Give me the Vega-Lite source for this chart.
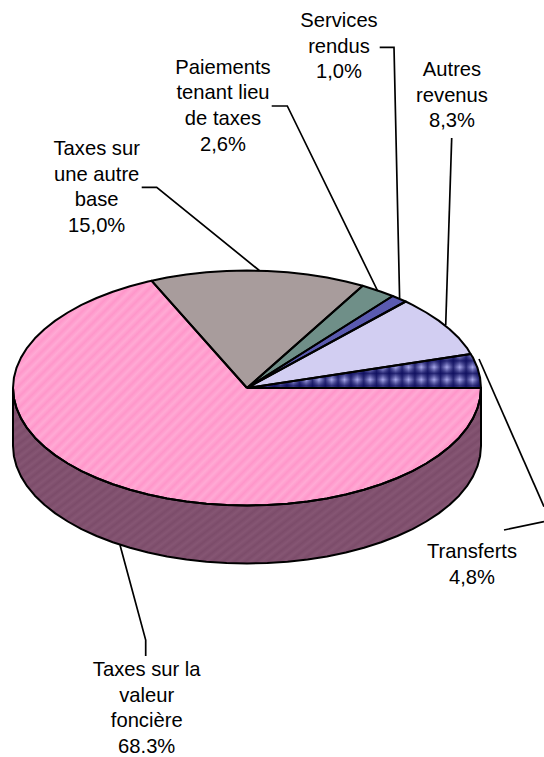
{"$schema":"https://vega.github.io/schema/vega-lite/v6.json","width":544,"height":757,"padding":0,"autosize":{"type":"none"},"background":"white","view":{"stroke":null},
"encoding":{"x":{"field":"x","type":"quantitative","scale":{"domain":[0,544],"nice":false,"zero":false},"axis":null},
"y":{"field":"y","type":"quantitative","scale":{"domain":[757,0],"nice":false,"zero":false},"axis":null}},
"datasets":{
"shapes":[
{"s":"Mur","o":1,"x":13,"y":388},{"s":"Mur","o":2,"x":13.9,"y":398.2},{"s":"Mur","o":3,"x":16.6,"y":408.4},{"s":"Mur","o":4,"x":21,"y":418.4},{"s":"Mur","o":5,"x":27.1,"y":428.2},{"s":"Mur","o":6,"x":34.9,"y":437.7},{"s":"Mur","o":7,"x":44.4,"y":446.7},{"s":"Mur","o":8,"x":55.3,"y":455.4},{"s":"Mur","o":9,"x":67.8,"y":463.5},{"s":"Mur","o":10,"x":81.5,"y":471.1},{"s":"Mur","o":11,"x":96.6,"y":478},{"s":"Mur","o":12,"x":112.8,"y":484.3},{"s":"Mur","o":13,"x":130,"y":489.8},{"s":"Mur","o":14,"x":148.1,"y":494.5},{"s":"Mur","o":15,"x":167,"y":498.4},{"s":"Mur","o":16,"x":186.4,"y":501.5},{"s":"Mur","o":17,"x":206.4,"y":503.7},{"s":"Mur","o":18,"x":226.6,"y":505.1},{"s":"Mur","o":19,"x":247,"y":505.5},{"s":"Mur","o":20,"x":267.4,"y":505.1},{"s":"Mur","o":21,"x":287.6,"y":503.7},{"s":"Mur","o":22,"x":307.6,"y":501.5},{"s":"Mur","o":23,"x":327,"y":498.4},{"s":"Mur","o":24,"x":345.9,"y":494.5},{"s":"Mur","o":25,"x":364,"y":489.8},{"s":"Mur","o":26,"x":381.2,"y":484.3},{"s":"Mur","o":27,"x":397.4,"y":478},{"s":"Mur","o":28,"x":412.5,"y":471.1},{"s":"Mur","o":29,"x":426.2,"y":463.5},{"s":"Mur","o":30,"x":438.7,"y":455.4},{"s":"Mur","o":31,"x":449.6,"y":446.7},{"s":"Mur","o":32,"x":459.1,"y":437.7},{"s":"Mur","o":33,"x":466.9,"y":428.2},{"s":"Mur","o":34,"x":473,"y":418.4},{"s":"Mur","o":35,"x":477.4,"y":408.4},{"s":"Mur","o":36,"x":480.1,"y":398.2},{"s":"Mur","o":37,"x":481,"y":388},
{"s":"Mur","o":38,"x":481,"y":446},{"s":"Mur","o":39,"x":480.1,"y":456.2},{"s":"Mur","o":40,"x":477.4,"y":466.4},{"s":"Mur","o":41,"x":473,"y":476.4},{"s":"Mur","o":42,"x":466.9,"y":486.2},{"s":"Mur","o":43,"x":459.1,"y":495.7},{"s":"Mur","o":44,"x":449.6,"y":504.7},{"s":"Mur","o":45,"x":438.7,"y":513.4},{"s":"Mur","o":46,"x":426.2,"y":521.5},{"s":"Mur","o":47,"x":412.5,"y":529.1},{"s":"Mur","o":48,"x":397.4,"y":536},{"s":"Mur","o":49,"x":381.2,"y":542.3},{"s":"Mur","o":50,"x":364,"y":547.8},{"s":"Mur","o":51,"x":345.9,"y":552.5},{"s":"Mur","o":52,"x":327,"y":556.4},{"s":"Mur","o":53,"x":307.6,"y":559.5},{"s":"Mur","o":54,"x":287.6,"y":561.7},{"s":"Mur","o":55,"x":267.4,"y":563.1},{"s":"Mur","o":56,"x":247,"y":563.5},{"s":"Mur","o":57,"x":226.6,"y":563.1},{"s":"Mur","o":58,"x":206.4,"y":561.7},{"s":"Mur","o":59,"x":186.4,"y":559.5},{"s":"Mur","o":60,"x":167,"y":556.4},{"s":"Mur","o":61,"x":148.1,"y":552.5},{"s":"Mur","o":62,"x":130,"y":547.8},{"s":"Mur","o":63,"x":112.8,"y":542.3},{"s":"Mur","o":64,"x":96.6,"y":536},{"s":"Mur","o":65,"x":81.5,"y":529.1},{"s":"Mur","o":66,"x":67.8,"y":521.5},{"s":"Mur","o":67,"x":55.3,"y":513.4},{"s":"Mur","o":68,"x":44.4,"y":504.7},{"s":"Mur","o":69,"x":34.9,"y":495.7},{"s":"Mur","o":70,"x":27.1,"y":486.2},{"s":"Mur","o":71,"x":21,"y":476.4},{"s":"Mur","o":72,"x":16.6,"y":466.4},{"s":"Mur","o":73,"x":13.9,"y":456.2},{"s":"Mur","o":74,"x":13,"y":446},{"s":"Mur","o":75,"x":13,"y":388},
{"s":"Valeur","o":1,"x":247,"y":388},{"s":"Valeur","o":2,"x":151.7,"y":280.8},{"s":"Valeur","o":3,"x":148.1,"y":281.5},{"s":"Valeur","o":4,"x":130,"y":286.2},{"s":"Valeur","o":5,"x":112.8,"y":291.7},{"s":"Valeur","o":6,"x":96.6,"y":298},{"s":"Valeur","o":7,"x":81.5,"y":304.9},{"s":"Valeur","o":8,"x":67.8,"y":312.5},{"s":"Valeur","o":9,"x":55.3,"y":320.6},{"s":"Valeur","o":10,"x":44.4,"y":329.3},{"s":"Valeur","o":11,"x":34.9,"y":338.3},{"s":"Valeur","o":12,"x":27.1,"y":347.8},{"s":"Valeur","o":13,"x":21,"y":357.6},{"s":"Valeur","o":14,"x":16.6,"y":367.6},{"s":"Valeur","o":15,"x":13.9,"y":377.8},{"s":"Valeur","o":16,"x":13,"y":388},{"s":"Valeur","o":17,"x":13.9,"y":398.2},{"s":"Valeur","o":18,"x":16.6,"y":408.4},{"s":"Valeur","o":19,"x":21,"y":418.4},{"s":"Valeur","o":20,"x":27.1,"y":428.2},{"s":"Valeur","o":21,"x":34.9,"y":437.7},{"s":"Valeur","o":22,"x":44.4,"y":446.7},{"s":"Valeur","o":23,"x":55.3,"y":455.4},{"s":"Valeur","o":24,"x":67.8,"y":463.5},{"s":"Valeur","o":25,"x":81.5,"y":471.1},{"s":"Valeur","o":26,"x":96.6,"y":478},{"s":"Valeur","o":27,"x":112.8,"y":484.3},{"s":"Valeur","o":28,"x":130,"y":489.8},{"s":"Valeur","o":29,"x":148.1,"y":494.5},{"s":"Valeur","o":30,"x":167,"y":498.4},{"s":"Valeur","o":31,"x":186.4,"y":501.5},{"s":"Valeur","o":32,"x":206.4,"y":503.7},{"s":"Valeur","o":33,"x":226.6,"y":505.1},{"s":"Valeur","o":34,"x":247,"y":505.5},{"s":"Valeur","o":35,"x":267.4,"y":505.1},{"s":"Valeur","o":36,"x":287.6,"y":503.7},{"s":"Valeur","o":37,"x":307.6,"y":501.5},{"s":"Valeur","o":38,"x":327,"y":498.4},{"s":"Valeur","o":39,"x":345.9,"y":494.5},{"s":"Valeur","o":40,"x":364,"y":489.8},{"s":"Valeur","o":41,"x":381.2,"y":484.3},{"s":"Valeur","o":42,"x":397.4,"y":478},{"s":"Valeur","o":43,"x":412.5,"y":471.1},{"s":"Valeur","o":44,"x":426.2,"y":463.5},{"s":"Valeur","o":45,"x":438.7,"y":455.4},{"s":"Valeur","o":46,"x":449.6,"y":446.7},{"s":"Valeur","o":47,"x":459.1,"y":437.7},{"s":"Valeur","o":48,"x":466.9,"y":428.2},{"s":"Valeur","o":49,"x":473,"y":418.4},{"s":"Valeur","o":50,"x":477.4,"y":408.4},{"s":"Valeur","o":51,"x":480.1,"y":398.2},{"s":"Valeur","o":52,"x":481,"y":388},{"s":"Valeur","o":53,"x":247,"y":388},
{"s":"Autre base","o":1,"x":247,"y":388},{"s":"Autre base","o":2,"x":362.7,"y":285.8},{"s":"Autre base","o":3,"x":345.9,"y":281.5},{"s":"Autre base","o":4,"x":327,"y":277.6},{"s":"Autre base","o":5,"x":307.6,"y":274.5},{"s":"Autre base","o":6,"x":287.6,"y":272.3},{"s":"Autre base","o":7,"x":267.4,"y":270.9},{"s":"Autre base","o":8,"x":247,"y":270.5},{"s":"Autre base","o":9,"x":226.6,"y":270.9},{"s":"Autre base","o":10,"x":206.4,"y":272.3},{"s":"Autre base","o":11,"x":186.4,"y":274.5},{"s":"Autre base","o":12,"x":167,"y":277.6},{"s":"Autre base","o":13,"x":151.7,"y":280.8},{"s":"Autre base","o":14,"x":247,"y":388},
{"s":"Paiements","o":1,"x":247,"y":388},{"s":"Paiements","o":2,"x":392.7,"y":296},{"s":"Paiements","o":3,"x":381.2,"y":291.7},{"s":"Paiements","o":4,"x":362.7,"y":285.8},{"s":"Paiements","o":5,"x":247,"y":388},
{"s":"Services","o":1,"x":247,"y":388},{"s":"Services","o":2,"x":405.7,"y":301.5},{"s":"Services","o":3,"x":397.4,"y":298},{"s":"Services","o":4,"x":392.7,"y":296},{"s":"Services","o":5,"x":247,"y":388},
{"s":"Autres","o":1,"x":247,"y":388},{"s":"Autres","o":2,"x":470.6,"y":354},{"s":"Autres","o":3,"x":466.9,"y":347.8},{"s":"Autres","o":4,"x":459.1,"y":338.3},{"s":"Autres","o":5,"x":449.6,"y":329.3},{"s":"Autres","o":6,"x":438.7,"y":320.6},{"s":"Autres","o":7,"x":426.2,"y":312.5},{"s":"Autres","o":8,"x":412.5,"y":304.9},{"s":"Autres","o":9,"x":405.7,"y":301.5},{"s":"Autres","o":10,"x":247,"y":388},
{"s":"Transferts","o":1,"x":247,"y":388},{"s":"Transferts","o":2,"x":481,"y":388},{"s":"Transferts","o":3,"x":480.1,"y":377.8},{"s":"Transferts","o":4,"x":477.4,"y":367.6},{"s":"Transferts","o":5,"x":473,"y":357.6},{"s":"Transferts","o":6,"x":470.6,"y":354},{"s":"Transferts","o":7,"x":247,"y":388}
],
"leaders":[
{"l":"a","o":1,"x":379.7,"y":47.3},{"l":"a","o":2,"x":394,"y":47.3},{"l":"a","o":3,"x":399.6,"y":298},
{"l":"b","o":1,"x":451.7,"y":138},{"l":"b","o":2,"x":445.7,"y":325},
{"l":"c","o":1,"x":271.7,"y":106},{"l":"c","o":2,"x":287.3,"y":106},{"l":"c","o":3,"x":377.7,"y":291},
{"l":"d","o":1,"x":141.7,"y":187.3},{"l":"d","o":2,"x":156.7,"y":187.3},{"l":"d","o":3,"x":259.3,"y":270.5},
{"l":"e","o":1,"x":120,"y":545},{"l":"e","o":2,"x":145.7,"y":640},{"l":"e","o":3,"x":145.7,"y":656},
{"l":"f","o":1,"x":479,"y":359},{"l":"f","o":2,"x":544,"y":506.7},
{"l":"g","o":1,"x":544,"y":521.7},{"l":"g","o":2,"x":504,"y":530}
],
"labels":[
{"t":"Services\nrendus\n1,0%","x":339,"y":21},
{"t":"Autres\nrevenus\n8,3%","x":452,"y":70},
{"t":"Paiements\ntenant lieu\nde taxes\n2,6%","x":223,"y":67.7},
{"t":"Taxes sur\nune autre\nbase\n15,0%","x":96.7,"y":149},
{"t":"Taxes sur la\nvaleur\nfoncière\n68.3%","x":146.7,"y":670},
{"t":"Transferts\n4,8%","x":472,"y":552}
]},
"layer":[
{"data":{"name":"shapes"},"mark":{"type":"line","filled":true,"strokeWidth":0},
"encoding":{"order":{"field":"o","type":"quantitative"},"detail":{"field":"s"},
"fill":{"field":"s","type":"nominal","legend":null,"scale":{"domain":["Mur","Valeur","Autre base","Paiements","Services","Autres","Transferts"],"range":["#7c4c6a","#ff96ca","#a89c9c","#6f8f88","#5a5ab0","#d2cef2","#a9a9ec"]}}}},
{"data":{"name":"shapes"},"transform":[{"filter":"datum.s==='Mur'||datum.s==='Valeur'"}],
"mark":{"type":"line","filled":true,"strokeWidth":0,"fill":{"gradient":"linear","x1":0,"y1":0,"x2":1.2028,"y2":0.578,"stops":[
{"offset":0,"color":"#ffd0e800"},{"offset":0.008,"color":"#ffd0e858"},{"offset":0.016,"color":"#ffd0e800"},{"offset":0.024,"color":"#ffd0e858"},{"offset":0.032,"color":"#ffd0e800"},{"offset":0.04,"color":"#ffd0e858"},{"offset":0.048,"color":"#ffd0e800"},{"offset":0.056,"color":"#ffd0e858"},{"offset":0.064,"color":"#ffd0e800"},{"offset":0.072,"color":"#ffd0e858"},{"offset":0.08,"color":"#ffd0e800"},{"offset":0.088,"color":"#ffd0e858"},{"offset":0.096,"color":"#ffd0e800"},{"offset":0.104,"color":"#ffd0e858"},{"offset":0.112,"color":"#ffd0e800"},{"offset":0.12,"color":"#ffd0e858"},{"offset":0.128,"color":"#ffd0e800"},{"offset":0.136,"color":"#ffd0e858"},{"offset":0.144,"color":"#ffd0e800"},{"offset":0.152,"color":"#ffd0e858"},{"offset":0.16,"color":"#ffd0e800"},{"offset":0.168,"color":"#ffd0e858"},{"offset":0.176,"color":"#ffd0e800"},{"offset":0.184,"color":"#ffd0e858"},{"offset":0.192,"color":"#ffd0e800"},{"offset":0.2,"color":"#ffd0e858"},{"offset":0.208,"color":"#ffd0e800"},{"offset":0.216,"color":"#ffd0e858"},{"offset":0.224,"color":"#ffd0e800"},{"offset":0.232,"color":"#ffd0e858"},{"offset":0.24,"color":"#ffd0e800"},{"offset":0.248,"color":"#ffd0e858"},{"offset":0.256,"color":"#ffd0e800"},{"offset":0.264,"color":"#ffd0e858"},{"offset":0.272,"color":"#ffd0e800"},{"offset":0.28,"color":"#ffd0e858"},{"offset":0.288,"color":"#ffd0e800"},{"offset":0.296,"color":"#ffd0e858"},{"offset":0.304,"color":"#ffd0e800"},{"offset":0.312,"color":"#ffd0e858"},{"offset":0.32,"color":"#ffd0e800"},{"offset":0.328,"color":"#ffd0e858"},{"offset":0.336,"color":"#ffd0e800"},{"offset":0.344,"color":"#ffd0e858"},{"offset":0.352,"color":"#ffd0e800"},{"offset":0.36,"color":"#ffd0e858"},{"offset":0.368,"color":"#ffd0e800"},{"offset":0.376,"color":"#ffd0e858"},{"offset":0.384,"color":"#ffd0e800"},{"offset":0.392,"color":"#ffd0e858"},{"offset":0.4,"color":"#ffd0e800"},{"offset":0.408,"color":"#ffd0e858"},{"offset":0.416,"color":"#ffd0e800"},{"offset":0.424,"color":"#ffd0e858"},{"offset":0.432,"color":"#ffd0e800"},{"offset":0.44,"color":"#ffd0e858"},{"offset":0.448,"color":"#ffd0e800"},{"offset":0.456,"color":"#ffd0e858"},{"offset":0.464,"color":"#ffd0e800"},{"offset":0.472,"color":"#ffd0e858"},{"offset":0.48,"color":"#ffd0e800"},{"offset":0.488,"color":"#ffd0e858"},{"offset":0.496,"color":"#ffd0e800"},{"offset":0.504,"color":"#ffd0e858"},{"offset":0.512,"color":"#ffd0e800"},{"offset":0.52,"color":"#ffd0e858"},{"offset":0.528,"color":"#ffd0e800"},{"offset":0.536,"color":"#ffd0e858"},{"offset":0.544,"color":"#ffd0e800"},{"offset":0.552,"color":"#ffd0e858"},{"offset":0.56,"color":"#ffd0e800"},{"offset":0.568,"color":"#ffd0e858"},{"offset":0.576,"color":"#ffd0e800"},{"offset":0.584,"color":"#ffd0e858"},{"offset":0.592,"color":"#ffd0e800"},{"offset":0.6,"color":"#ffd0e858"},{"offset":0.608,"color":"#ffd0e800"},{"offset":0.616,"color":"#ffd0e858"},{"offset":0.624,"color":"#ffd0e800"},{"offset":0.632,"color":"#ffd0e858"},{"offset":0.64,"color":"#ffd0e800"},{"offset":0.648,"color":"#ffd0e858"},{"offset":0.656,"color":"#ffd0e800"},{"offset":0.664,"color":"#ffd0e858"},{"offset":0.672,"color":"#ffd0e800"},{"offset":0.68,"color":"#ffd0e858"},{"offset":0.688,"color":"#ffd0e800"},{"offset":0.696,"color":"#ffd0e858"},{"offset":0.704,"color":"#ffd0e800"},{"offset":0.712,"color":"#ffd0e858"},{"offset":0.72,"color":"#ffd0e800"},{"offset":0.728,"color":"#ffd0e858"},{"offset":0.736,"color":"#ffd0e800"},{"offset":0.744,"color":"#ffd0e858"},{"offset":0.752,"color":"#ffd0e800"},{"offset":0.76,"color":"#ffd0e858"},{"offset":0.768,"color":"#ffd0e800"},{"offset":0.776,"color":"#ffd0e858"},{"offset":0.784,"color":"#ffd0e800"},{"offset":0.792,"color":"#ffd0e858"},{"offset":0.8,"color":"#ffd0e800"},{"offset":0.808,"color":"#ffd0e858"},{"offset":0.816,"color":"#ffd0e800"},{"offset":0.824,"color":"#ffd0e858"},{"offset":0.832,"color":"#ffd0e800"},{"offset":0.84,"color":"#ffd0e858"},{"offset":0.848,"color":"#ffd0e800"},{"offset":0.856,"color":"#ffd0e858"},{"offset":0.864,"color":"#ffd0e800"},{"offset":0.872,"color":"#ffd0e858"},{"offset":0.88,"color":"#ffd0e800"},{"offset":0.888,"color":"#ffd0e858"},{"offset":0.896,"color":"#ffd0e800"},{"offset":0.904,"color":"#ffd0e858"},{"offset":0.912,"color":"#ffd0e800"},{"offset":0.92,"color":"#ffd0e858"},{"offset":0.928,"color":"#ffd0e800"},{"offset":0.936,"color":"#ffd0e858"},{"offset":0.944,"color":"#ffd0e800"},{"offset":0.952,"color":"#ffd0e858"},{"offset":0.96,"color":"#ffd0e800"},{"offset":0.968,"color":"#ffd0e858"},{"offset":0.976,"color":"#ffd0e800"},{"offset":0.984,"color":"#ffd0e858"},{"offset":0.992,"color":"#ffd0e800"},{"offset":1,"color":"#ffd0e858"}]}},
"encoding":{"order":{"field":"o","type":"quantitative"},"detail":{"field":"s"},
"fillOpacity":{"field":"s","type":"nominal","legend":null,"scale":{"domain":["Mur","Valeur"],"range":[0.22,1]}}}},
{"data":{"name":"shapes"},"transform":[{"filter":"datum.s==='Transferts'"}],
"mark":{"type":"line","filled":true,"strokeWidth":0,"fill":{"gradient":"linear","x1":0,"y1":0,"x2":1,"y2":0,"stops":[
{"offset":0.0064,"color":"#0a0a5acc"},{"offset":0.0337,"color":"#0a0a5a00"},{"offset":0.0611,"color":"#0a0a5acc"},{"offset":0.0885,"color":"#0a0a5a00"},{"offset":0.1158,"color":"#0a0a5acc"},{"offset":0.1432,"color":"#0a0a5a00"},{"offset":0.1705,"color":"#0a0a5acc"},{"offset":0.1979,"color":"#0a0a5a00"},{"offset":0.2252,"color":"#0a0a5acc"},{"offset":0.2526,"color":"#0a0a5a00"},{"offset":0.2799,"color":"#0a0a5acc"},{"offset":0.3073,"color":"#0a0a5a00"},{"offset":0.3346,"color":"#0a0a5acc"},{"offset":0.362,"color":"#0a0a5a00"},{"offset":0.3893,"color":"#0a0a5acc"},{"offset":0.4167,"color":"#0a0a5a00"},{"offset":0.444,"color":"#0a0a5acc"},{"offset":0.4714,"color":"#0a0a5a00"},{"offset":0.4987,"color":"#0a0a5acc"},{"offset":0.5261,"color":"#0a0a5a00"},{"offset":0.5534,"color":"#0a0a5acc"},{"offset":0.5808,"color":"#0a0a5a00"},{"offset":0.6081,"color":"#0a0a5acc"},{"offset":0.6355,"color":"#0a0a5a00"},{"offset":0.6628,"color":"#0a0a5acc"},{"offset":0.6902,"color":"#0a0a5a00"},{"offset":0.7175,"color":"#0a0a5acc"},{"offset":0.7449,"color":"#0a0a5a00"},{"offset":0.7722,"color":"#0a0a5acc"},{"offset":0.7996,"color":"#0a0a5a00"},{"offset":0.8269,"color":"#0a0a5acc"},{"offset":0.8543,"color":"#0a0a5a00"},{"offset":0.8816,"color":"#0a0a5acc"},{"offset":0.909,"color":"#0a0a5a00"},{"offset":0.9363,"color":"#0a0a5acc"},{"offset":0.9637,"color":"#0a0a5a00"},{"offset":0.991,"color":"#0a0a5acc"}]}},
"encoding":{"order":{"field":"o","type":"quantitative"},"detail":{"field":"s"}}},
{"data":{"name":"shapes"},"transform":[{"filter":"datum.s==='Transferts'"}],
"mark":{"type":"line","filled":true,"strokeWidth":0,"fill":{"gradient":"linear","x1":0,"y1":0,"x2":0,"y2":1,"stops":[
{"offset":0.015,"color":"#0a0a5a00"},{"offset":0.2,"color":"#0a0a5acc"},{"offset":0.386,"color":"#0a0a5a00"},{"offset":0.571,"color":"#0a0a5acc"},{"offset":0.756,"color":"#0a0a5a00"},{"offset":0.941,"color":"#0a0a5acc"},{"offset":1,"color":"#0a0a5a88"}]}},
"encoding":{"order":{"field":"o","type":"quantitative"},"detail":{"field":"s"}}},
{"data":{"name":"shapes"},"mark":{"type":"line","color":"black","strokeWidth":2,"strokeJoin":"round"},
"encoding":{"order":{"field":"o","type":"quantitative"},"detail":{"field":"s"}}},
{"data":{"name":"leaders"},"mark":{"type":"line","color":"black","strokeWidth":1.7,"strokeJoin":"miter"},
"encoding":{"order":{"field":"o","type":"quantitative"},"detail":{"field":"l"}}},
{"data":{"name":"labels"},"mark":{"type":"text","font":"Liberation Sans","fontSize":20.2,"color":"#000","align":"center","baseline":"middle","lineBreak":"\n","lineHeight":25.7},
"encoding":{"text":{"field":"t"}}}
]}
